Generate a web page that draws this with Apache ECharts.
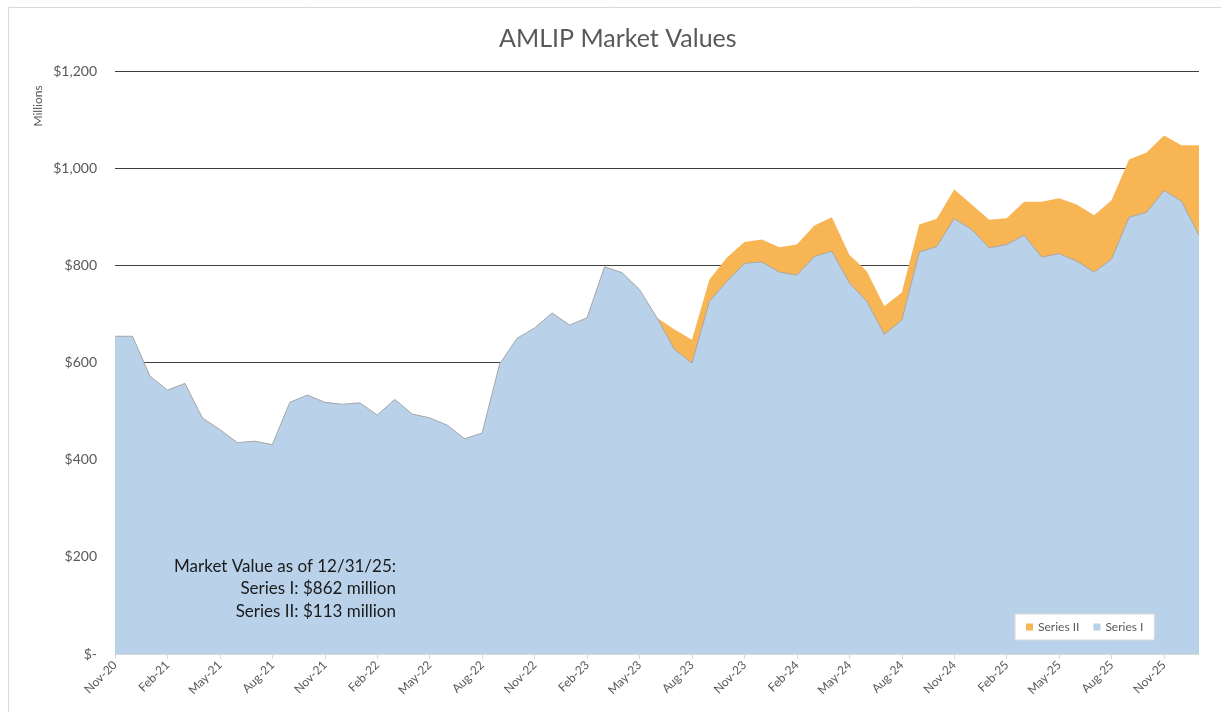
<!DOCTYPE html>
<html>
<head>
<meta charset="utf-8">
<title>AMLIP Market Values</title>
<script src="https://cdn.jsdelivr.net/npm/echarts@6/dist/echarts.min.js"></script>
<style>
  html, body { margin: 0; padding: 0; background: #fff; }
  #chart { width: 1221px; height: 712px; }
</style>
</head>
<body>
<div id="chart"></div>
<script>
// month labels on the category axis
const months = [
  'Nov-20', 'Dec-20',
  'Jan-21', 'Feb-21', 'Mar-21', 'Apr-21', 'May-21', 'Jun-21', 'Jul-21', 'Aug-21', 'Sep-21', 'Oct-21', 'Nov-21', 'Dec-21',
  'Jan-22', 'Feb-22', 'Mar-22', 'Apr-22', 'May-22', 'Jun-22', 'Jul-22', 'Aug-22', 'Sep-22', 'Oct-22', 'Nov-22', 'Dec-22',
  'Jan-23', 'Feb-23', 'Mar-23', 'Apr-23', 'May-23', 'Jun-23', 'Jul-23', 'Aug-23', 'Sep-23', 'Oct-23', 'Nov-23', 'Dec-23',
  'Jan-24', 'Feb-24', 'Mar-24', 'Apr-24', 'May-24', 'Jun-24', 'Jul-24', 'Aug-24', 'Sep-24', 'Oct-24', 'Nov-24', 'Dec-24',
  'Jan-25', 'Feb-25', 'Mar-25', 'Apr-25', 'May-25', 'Jun-25', 'Jul-25', 'Aug-25', 'Sep-25', 'Oct-25', 'Nov-25', 'Dec-25',
  'Jan-26'
]

// $ millions
const seriesI = [
  654, 654,
  572, 543, 557, 486, 462, 435, 438, 431, 518, 533, 518, 514,
  517, 492, 524, 494, 486, 471, 443, 455, 597, 650, 671, 702,
  677, 692, 797, 785, 750, 692, 627, 599, 726, 767, 804, 807,
  786, 780, 818, 829, 764, 726, 658, 687, 827, 839, 896, 874,
  836, 843, 862, 817, 824, 809, 786, 813, 899, 909, 954, 932,
  862
]

const seriesII = [
  0, 0,
  0, 0, 0, 0, 0, 0, 0, 0, 0, 0, 0, 0,
  0, 0, 0, 0, 0, 0, 0, 0, 0, 0, 0, 0,
  0, 0, 0, 0, 0, 0, 41, 48, 45, 49, 44, 46,
  51, 63, 64, 70, 58, 62, 58, 57, 57, 57, 60, 51,
  58, 54, 69, 114, 114, 116, 117, 121, 119, 123, 113, 115,
  185
]

const yTicks = [0, 200, 400, 600, 800, 1000, 1200]

const noteLines = [
  'Market Value as of 12/31/25:',
  'Series I: $862 million',
  'Series II: $113 million'
]

const font = 'Lato, "Open Sans", sans-serif'
const grey = '#595959'

const chart = echarts.init(document.getElementById('chart'))

chart.setOption({
  animation: false,
  backgroundColor: '#fff',
  title: {
    text: 'AMLIP Market Values',
    left: 494,
    top: 21,
    textStyle: { fontFamily: font, fontSize: 25, fontWeight: 'normal', color: grey }
  },
  legend: {
    data: ['Series II', 'Series I'],
    left: 1015,
    top: 614,
    icon: 'rect',
    itemWidth: 7,
    itemHeight: 7,
    itemGap: 14,
    padding: [7, 11],
    backgroundColor: '#fff',
    borderColor: '#d9d9d9',
    borderWidth: 1,
    textStyle: { fontFamily: font, fontSize: 12, color: grey }
  },
  grid: {
    left: 115,
    right: 22,
    top: 71,
    bottom: 58
  },
  xAxis: {
    type: 'category',
    data: months,
    boundaryGap: false,
    axisLine: { lineStyle: { color: '#d9d9d9' } },
    axisTick: { interval: 2, length: 5, lineStyle: { color: '#d9d9d9' } },
    axisLabel: {
      interval: 2,
      rotate: 45,
      margin: 9,
      fontFamily: font,
      fontSize: 12,
      color: grey
    },
    splitLine: { show: false }
  },
  yAxis: {
    type: 'value',
    min: yTicks[0],
    max: yTicks[yTicks.length - 1],
    interval: 200,
    axisLine: { show: false },
    axisTick: { show: false },
    axisLabel: {
      margin: 18,
      fontFamily: font,
      fontSize: 14,
      color: grey,
      formatter: function (v) {
        return v === 0 ? '$-' : '$' + v.toLocaleString('en-US')
      }
    },
    splitLine: { lineStyle: { color: '#404040', width: 1 } }
  },
  series: [{
    name: 'Series I',
    type: 'line',
    stack: 'mv',
    data: seriesI,
    symbol: 'none',
    color: '#B9D2EA',
    lineStyle: { color: '#a6a6a6', width: 1 },
    areaStyle: { color: '#B9D2EA', opacity: 1 }
  }, {
    name: 'Series II',
    type: 'line',
    stack: 'mv',
    data: seriesII,
    symbol: 'none',
    color: '#F8B553',
    lineStyle: { width: 0 },
    areaStyle: { color: '#F8B553', opacity: 1 }
  }],
  graphic: [{
    type: 'rect',
    shape: { x: 8.5, y: 7.5, width: 1400, height: 900 },
    style: { fill: 'none', stroke: '#d9d9d9', lineWidth: 1 },
    silent: true
  }, {
    type: 'text',
    x: 38,
    y: 106,
    rotation: Math.PI / 2,
    style: {
      text: 'Millions',
      fontFamily: font,
      fontSize: 12,
      fill: grey,
      align: 'center',
      verticalAlign: 'middle'
    }
  }, {
    type: 'text',
    x: 396,
    y: 555,
    z: 100,
    style: {
      text: noteLines.join('\n'),
      fontFamily: font,
      fontSize: 17,
      lineHeight: 22.5,
      fill: '#1a1a1a',
      align: 'right',
      verticalAlign: 'top'
    }
  }]
})
</script>
</body>
</html>
